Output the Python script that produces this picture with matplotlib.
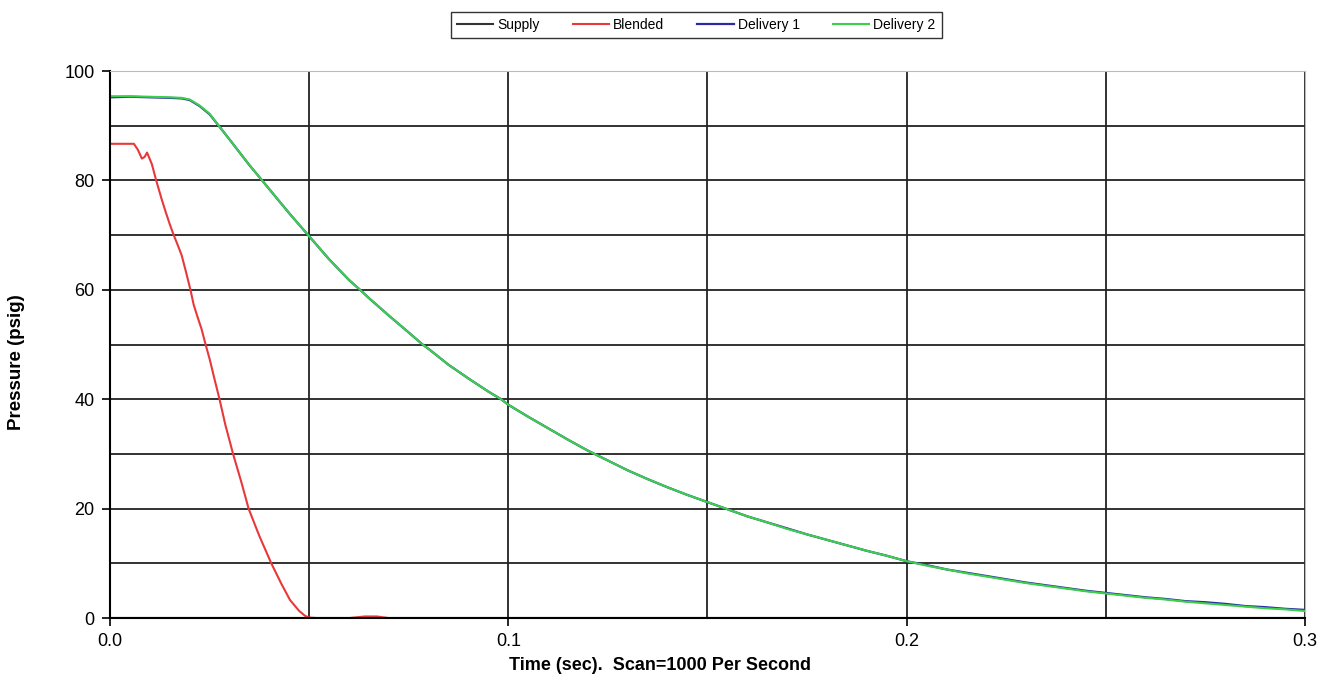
import matplotlib.pyplot as plt
from matplotlib.ticker import MultipleLocator

plt.rcParams['font.family'] = ['Liberation Sans', 'DejaVu Sans']

# time base (s) for the delivery traces
t_del = [0.000, 0.005, 0.010, 0.015, 0.018, 0.020, 0.0225, 0.025, 0.0273, 0.030,
         0.035, 0.0382, 0.040, 0.045, 0.050, 0.055, 0.060, 0.0628, 0.065, 0.070,
         0.075, 0.0785, 0.080, 0.085, 0.090, 0.095, 0.0982, 0.100, 0.105, 0.110,
         0.115, 0.120, 0.125, 0.130, 0.135, 0.140, 0.145, 0.150, 0.155, 0.160,
         0.165, 0.170, 0.175, 0.180, 0.185, 0.190, 0.195, 0.200, 0.205, 0.210,
         0.215, 0.220, 0.225, 0.230, 0.235, 0.240, 0.245, 0.250, 0.255, 0.260,
         0.265, 0.270, 0.275, 0.280, 0.285, 0.290, 0.295, 0.300]

delivery2 = [95.4, 95.4, 95.3, 95.2, 95.1, 94.8, 93.7, 92.2, 90.0, 87.5,
             82.8, 80.0, 78.4, 74.0, 69.8, 65.6, 61.8, 60.0, 58.5, 55.3,
             52.2, 50.0, 49.2, 46.3, 43.8, 41.4, 40.0, 39.0, 36.8, 34.7,
             32.6, 30.6, 28.8, 27.0, 25.4, 23.9, 22.5, 21.2, 19.9, 18.6,
             17.5, 16.3, 15.3, 14.3, 13.3, 12.3, 11.4, 10.4, 9.6, 8.9,
             8.2, 7.6, 7.0, 6.4, 5.9, 5.4, 4.9, 4.5, 4.1, 3.7,
             3.4, 3.0, 2.7, 2.4, 2.1, 1.8, 1.6, 1.3]

delivery1 = [95.2, 95.3, 95.2, 95.1, 95.0, 94.7, 93.6, 92.1, 90.0, 87.5,
             82.8, 80.0, 78.4, 74.0, 69.8, 65.6, 61.8, 60.0, 58.5, 55.3,
             52.2, 50.0, 49.2, 46.3, 43.8, 41.4, 40.0, 39.0, 36.8, 34.7,
             32.6, 30.6, 28.8, 27.0, 25.4, 23.9, 22.5, 21.2, 19.9, 18.6,
             17.5, 16.4, 15.3, 14.3, 13.3, 12.3, 11.4, 10.4, 9.7, 8.9,
             8.3, 7.7, 7.1, 6.5, 6.0, 5.5, 5.0, 4.6, 4.2, 3.8,
             3.5, 3.1, 2.9, 2.6, 2.2, 2.0, 1.7, 1.5]

# blended line pressure
t_bl = [0.000, 0.006, 0.007, 0.008, 0.0087, 0.0093, 0.0105, 0.0116, 0.013, 0.014,
        0.015, 0.016, 0.017, 0.018, 0.019, 0.0202, 0.021, 0.022, 0.023, 0.024,
        0.025, 0.0263, 0.0275, 0.029, 0.030, 0.0309, 0.033, 0.0348, 0.0375, 0.0405,
        0.043, 0.0452, 0.0475, 0.049, 0.050, 0.052, 0.060, 0.064, 0.067, 0.070,
        0.080, 0.150, 0.200, 0.250, 0.300]
blended = [86.7, 86.7, 85.6, 84.0, 84.3, 85.1, 83.0, 80.0, 76.5, 74.2,
           72.0, 70.0, 68.2, 66.3, 63.5, 60.0, 57.3, 55.0, 52.8, 50.0,
           47.4, 43.5, 40.0, 35.2, 32.5, 30.0, 24.8, 20.0, 15.0, 10.0,
           6.3, 3.3, 1.3, 0.4, 0.1, 0.0, 0.0, 0.3, 0.3, 0.0,
           0.0, 0.0, 0.0, 0.0, 0.0]

# supply header sits at zero for the whole scan
t_sup = [0.000, 0.100, 0.200, 0.300]
supply = [0.0, 0.0, 0.0, 0.0]

fig = plt.figure(figsize=(13.35, 7.0), dpi=100)
ax = fig.add_axes([0.0824, 0.117, 0.8951, 0.7815])

ax.plot(t_sup, supply, color='#333333', lw=1.5, label='Supply')
ax.plot(t_bl, blended, color='#e8393a', lw=1.5, label='Blended')
ax.plot(t_del, delivery1, color='#2a2aa8', lw=1.6, label='Delivery 1')
ax.plot(t_del, delivery2, color='#3ccf4a', lw=1.5, label='Delivery 2')

ax.set_xlim(0, 0.3)
ax.set_ylim(0, 100)
ax.xaxis.set_major_locator(MultipleLocator(0.1))
ax.xaxis.set_minor_locator(MultipleLocator(0.05))
ax.yaxis.set_major_locator(MultipleLocator(20))
ax.yaxis.set_minor_locator(MultipleLocator(10))
ax.xaxis.set_major_formatter(lambda v, p: f'{v:.1f}')
ax.grid(which='both', color='#222222', lw=1.3)
ax.set_axisbelow(True)
ax.tick_params(which='major', direction='out', length=6, width=1.2, labelsize=13, pad=5)
ax.tick_params(which='minor', length=0)

for side in ('top', 'right'):
    ax.spines[side].set_color('#bbbbbb')
for side in ('left', 'bottom'):
    ax.spines[side].set_color('black')
    ax.spines[side].set_linewidth(1.5)

ax.set_xlabel('Time (sec).  Scan=1000 Per Second', fontsize=13, fontweight='bold')
ax.set_ylabel('Pressure (psig)', fontsize=13.5, fontweight='bold')
ax.xaxis.set_label_coords(0.46, -0.071)
ax.yaxis.set_label_coords(-0.071, 0.468)

leg = fig.legend(loc='upper center', bbox_to_anchor=(0.5215, 0.993), ncol=4, fontsize=10,
                 frameon=True, fancybox=False, edgecolor='black', handlelength=2.6,
                 columnspacing=2.4, handletextpad=0.3, borderpad=0.45)
leg.get_frame().set_linewidth(1.0)

fig.savefig('out.png', dpi=100)
